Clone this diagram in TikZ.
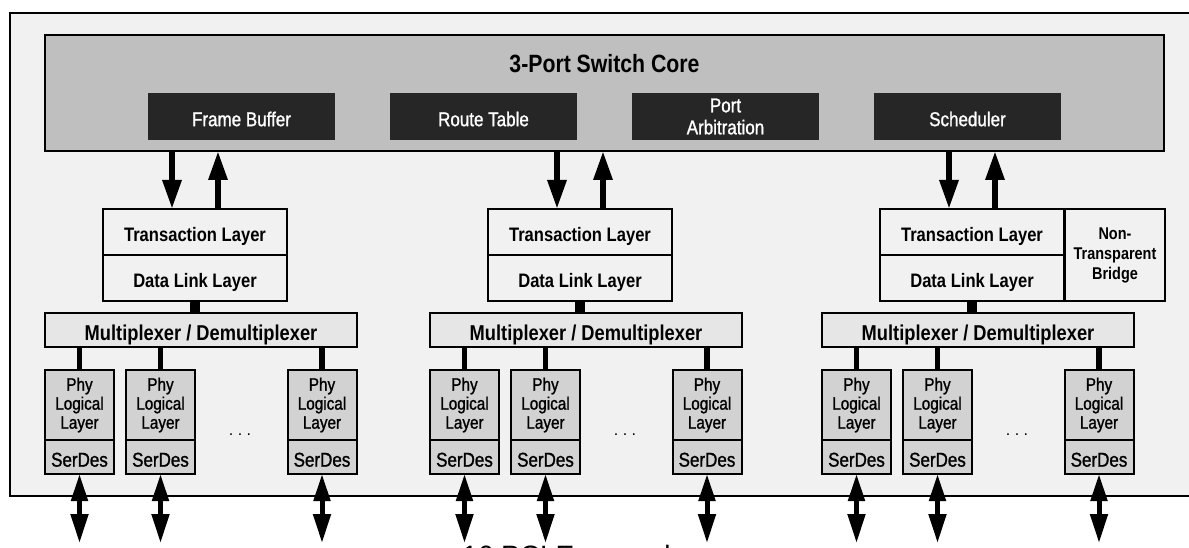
\documentclass[tikz,border=0pt]{standalone}
\usepackage{fontspec}
\setmainfont{Liberation Sans}
\newfontfamily\nf[FakeStretch=0.85]{Liberation Sans}
\newfontfamily\mf[FakeStretch=0.85,FakeBold=1.2]{Liberation Sans}
\usetikzlibrary{arrows.meta}
\definecolor{bgc}{HTML}{F1F1F1}
\definecolor{corec}{HTML}{BFBFBF}
\definecolor{blkc}{HTML}{262626}
\definecolor{muxc}{HTML}{E6E6E6}
\definecolor{phyc}{HTML}{D2D2D2}
\tikzset{
  box/.style={draw, line width=2pt, inner sep=0pt, outer sep=0pt, align=center},
  blk/.style={fill=blkc, inner sep=0pt, outer sep=0pt, minimum width=187pt, minimum height=47pt,
    text=white, align=center, font=\mf\fontsize{20}{22}\selectfont},
  one/.style={text height=#1, text depth=0pt},
  trbox/.style={box, fill=bgc, minimum width=184pt, minimum height=46pt, font=\nf\bfseries\fontsize{19.5}{21}\selectfont, one=19pt},
  muxbox/.style={box, fill=muxc, minimum width=312pt, minimum height=34pt, font=\nf\bfseries\fontsize{21.5}{23}\selectfont, one=20.4pt},
  phybox/.style={box, fill=phyc, minimum width=69pt, minimum height=70pt, font=\mf\fontsize{18}{19}\selectfont},
  serbox/.style={box, fill=phyc, minimum width=69pt, minimum height=34pt, font=\mf\fontsize{20}{22}\selectfont, one=19.3pt},
  bigarr/.style={line width=6pt, -{Triangle[length=29pt,width=18pt]}},
  dblarr/.style={line width=5pt, {Triangle[length=27pt,width=16pt]}-{Triangle[length=29pt,width=17pt]}},
  stub/.style={line width=10pt},
  link/.style={line width=5.5pt}
}
\begin{document}
\begin{tikzpicture}[x=1pt,y=-1pt]
\useasboundingbox (0,0) rectangle (1189,548);
\fill[white] (0,0) rectangle (1189,548);
% board
\node[draw, line width=2pt, fill=bgc, inner sep=0pt, outer sep=0pt, anchor=north west,
  minimum width=1220pt, minimum height=483pt] (board) at (9.5,13) {};
% switch core
\node[box, fill=corec, minimum width=1119pt, minimum height=116pt] (core) at (604.5,93) {};
\node[font=\nf\bfseries\fontsize{25}{27}\selectfont, inner sep=0pt] (title) at (604.5,64) {3-Port Switch Core};
\node[blk, one=19.3pt] (fb) at (241.5,116.5) {Frame Buffer};
\node[blk, one=19.3pt] (rt) at (483.5,116.5) {Route Table};
\node[blk] (pa) at (725.5,116.5) {Port\\Arbitration};
\node[blk, one=19.3pt] (sch) at (967.5,116.5) {Scheduler};
% ports
\foreach \o/\p in {0/a,385/b,777/c}{
  \node[trbox] (tr\p) at (195+\o,232) {Transaction Layer};
  \node[trbox] (dl\p) at (195+\o,278) {Data Link Layer};
  \node[muxbox] (mux\p) at (201+\o,330) {Multiplexer / Demultiplexer};
  \draw[bigarr] ([xshift=-23pt]tr\p.north |- core.south) -- ([xshift=-23pt]tr\p.north);
  \draw[bigarr] ([xshift=23pt]tr\p.north) -- ([xshift=23pt]tr\p.north |- core.south);
  \draw[stub] (dl\p.south) -- (dl\p.south |- mux\p.north);
  \foreach \cx/\q in {79.5/1,160.5/2,322/3}{
    \node[phybox] (phy\p\q) at (\cx+\o,405) {Phy\\Logical\\Layer};
    \node[serbox] (ser\p\q) at (\cx+\o,457) {SerDes};
    \coordinate (end\p\q) at (\cx+\o,543);
    \draw[link] (phy\p\q.north |- mux\p.south) -- (phy\p\q.north);
    \draw[dblarr] (ser\p\q.south) -- (end\p\q);
  }
  \node[anchor=base, inner sep=0pt, font=\fontsize{16}{18}\selectfont] (dots\p) at (240+\o,435) {.\ .\ .};
}
\node[box, fill=bgc, minimum width=100pt, minimum height=92pt, font=\nf\bfseries\fontsize{17}{20}\selectfont] (ntb) at (1115,255) {Non-\\Transparent\\Bridge};
\node[anchor=base west, inner sep=0pt, font=\fontsize{28}{30}\selectfont] (lanes) at (462,565) {16 PCI Express lanes};
\end{tikzpicture}
\end{document}
